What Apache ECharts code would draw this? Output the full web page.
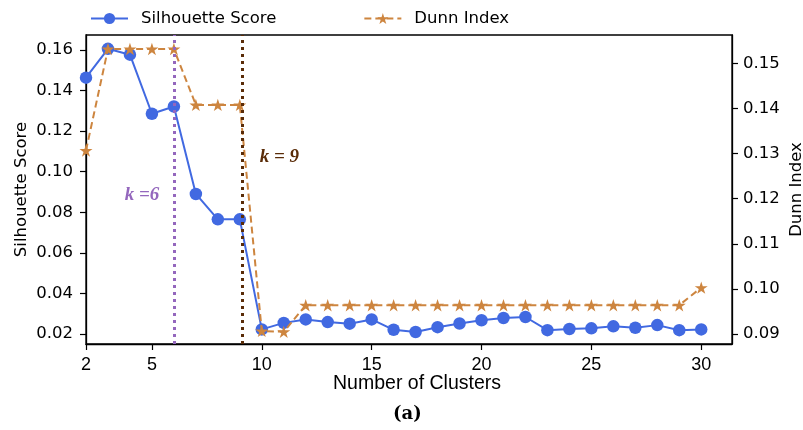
<!DOCTYPE html>
<html>
<head>
<meta charset="utf-8">
<title>Silhouette Score and Dunn Index vs Number of Clusters</title>
<script src="https://cdn.jsdelivr.net/npm/echarts@6/dist/echarts.min.js"></script>
<style>
  html, body { margin: 0; padding: 0; background: #fff; }
  #chart { width: 803px; height: 430px; }
</style>
</head>
<body>
<div id="chart"></div>
<script>
// Number of clusters evaluated
const clusters = [2, 3, 4, 5, 6, 7, 8, 9, 10, 11, 12, 13, 14, 15, 16,
  17, 18, 19, 20, 21, 22, 23, 24, 25, 26, 27, 28, 29, 30];

// Silhouette score per k (left axis)
const silhouette = [0.1463, 0.1605, 0.1576, 0.1285, 0.1321, 0.0890, 0.0765, 0.0765,
  0.0223, 0.0255, 0.0272, 0.0259, 0.0251, 0.0272, 0.0221, 0.0210, 0.0234, 0.0252,
  0.0268, 0.0279, 0.0284, 0.0219, 0.0225, 0.0228, 0.0238, 0.0231, 0.0244, 0.0219, 0.0223];

// Dunn index per k (right axis)
const dunn = [0.1307, 0.1532, 0.1532, 0.1532, 0.1532, 0.1408, 0.1408, 0.1408,
  0.0907, 0.0905, 0.0964, 0.0964, 0.0964, 0.0964, 0.0964, 0.0964, 0.0964, 0.0964,
  0.0964, 0.0964, 0.0964, 0.0964, 0.0964, 0.0964, 0.0964, 0.0964, 0.0964, 0.0964, 0.1003];

// Tick labels
const xTicks = [2, 5, 10, 15, 20, 25, 30];
const leftTicks = [0.02, 0.04, 0.06, 0.08, 0.10, 0.12, 0.14, 0.16];
const rightTicks = [0.09, 0.10, 0.11, 0.12, 0.13, 0.14, 0.15];

// Highlighted choices of k: guide line position and label anchor (x, left-axis y)
const kMarks = [
  { k: 6, label: 'k =6', color: '#9467bd', at: [4.55, 0.0885] },
  { k: 9.1, label: 'k = 9', color: '#5a2c08', at: [10.8, 0.1071] }
];

const starPath = 'path://M0,-100L22.45,-30.9L95.1,-30.9L36.33,11.8L58.8,80.9L0,38.2L-58.8,80.9L-36.33,11.8L-95.1,-30.9L-22.45,-30.9Z';

const blue = '#4169E1';
const orange = '#CD853F';

const tickFont = { fontFamily: 'DejaVu Sans', fontSize: 16.5, color: '#000' };
const nameFont = { fontFamily: 'DejaVu Sans', fontSize: 16.5, color: '#000' };

const chart = echarts.init(document.getElementById('chart'), null, { renderer: 'canvas' });

chart.setOption({
  animation: false,
  backgroundColor: '#fff',
  title: {
    text: '(a)',
    left: 388,
    top: 400,
    textStyle: { fontFamily: 'DejaVu Serif', fontWeight: 'bold', fontSize: 18, color: '#000' }
  },
  legend: {
    left: 90,
    top: 10,
    padding: 0,
    itemWidth: 37,
    itemHeight: 14,
    itemGap: 87,
    textStyle: { fontFamily: 'DejaVu Sans', fontSize: 16.5, color: '#000', padding: [0, 0, 0, 8] },
    data: ['Silhouette Score', 'Dunn Index']
  },
  grid: {
    left: 86, right: 71, top: 35, bottom: 86,
    outerBoundsMode: 'none',
    containLabel: false,
    show: true, borderColor: '#000', borderWidth: 1.3, backgroundColor: 'transparent'
  },
  xAxis: {
    type: 'value',
    min: 2,
    max: 31.4,
    name: 'Number of Clusters',
    nameLocation: 'middle',
    nameMoveOverlap: false,
    nameGap: 30,
    nameTextStyle: { fontFamily: 'Liberation Sans', fontSize: 19.5, color: '#000', padding: [0, 0, 0, 16] },
    splitLine: { show: false },
    axisLine: { show: true, lineStyle: { color: '#000', width: 1.3 } },
    axisTick: { show: true, length: 6, lineStyle: { color: '#000', width: 1.2 }, customValues: xTicks },
    axisLabel: { fontFamily: 'Liberation Sans', fontSize: 18, color: '#000', margin: 12, customValues: xTicks }
  },
  yAxis: [
    {
      type: 'value',
      min: 0.0151,
      max: 0.1673,
      name: 'Silhouette Score',
      nameLocation: 'middle',
      nameRotate: 90,
      nameMoveOverlap: false,
      nameGap: 56,
      nameTextStyle: nameFont,
      splitLine: { show: false },
      axisLine: { show: true, lineStyle: { color: '#000', width: 1.3 } },
      axisTick: { show: true, length: 6, lineStyle: { color: '#000', width: 1.2 }, customValues: leftTicks },
      axisLabel: Object.assign({ margin: 13, customValues: leftTicks, formatter: v => v.toFixed(2) }, tickFont)
    },
    {
      type: 'value',
      min: 0.0878,
      max: 0.1563,
      position: 'right',
      name: 'Dunn Index',
      nameLocation: 'middle',
      nameRotate: 90,
      nameMoveOverlap: false,
      nameGap: 56,
      nameTextStyle: nameFont,
      splitLine: { show: false },
      axisLine: { show: true, lineStyle: { color: '#000', width: 1.3 } },
      axisTick: { show: true, length: 6, lineStyle: { color: '#000', width: 1.2 }, customValues: rightTicks },
      axisLabel: Object.assign({ margin: 11, customValues: rightTicks, formatter: v => v.toFixed(2) }, tickFont)
    }
  ],
  series: [
    {
      name: 'Silhouette Score',
      type: 'line',
      yAxisIndex: 0,
      data: clusters.map((k, i) => [k, silhouette[i]]),
      symbol: 'circle',
      symbolSize: 12.5,
      itemStyle: { color: blue },
      lineStyle: { color: blue, width: 2 },
      z: 2
    },
    {
      name: 'Dunn Index',
      type: 'line',
      yAxisIndex: 1,
      data: clusters.map((k, i) => [k, dunn[i]]),
      symbol: starPath,
      symbolSize: 13,
      symbolKeepAspect: true,
      itemStyle: { color: orange },
      lineStyle: { color: orange, width: 2, type: [7, 4] },
      z: 3
    },
    {
      name: 'k markers',
      type: 'line',
      yAxisIndex: 0,
      data: [],
      z: 4,
      markLine: {
        silent: true,
        symbol: ['none', 'none'],
        label: { show: false },
        data: kMarks.map(m => ({
          xAxis: m.k,
          lineStyle: { color: m.color, width: 3, type: [3, 4], cap: 'butt' }
        }))
      },
      markPoint: {
        silent: true,
        symbol: 'circle',
        symbolSize: 0,
        data: kMarks.map(m => ({
          coord: m.at,
          label: {
            show: true,
            position: 'inside',
            formatter: m.label,
            fontFamily: 'Liberation Serif',
            fontStyle: 'italic',
            fontWeight: 'bold',
            fontSize: 19,
            color: m.color
          }
        }))
      }
    }
  ]
});
</script>
</body>
</html>
